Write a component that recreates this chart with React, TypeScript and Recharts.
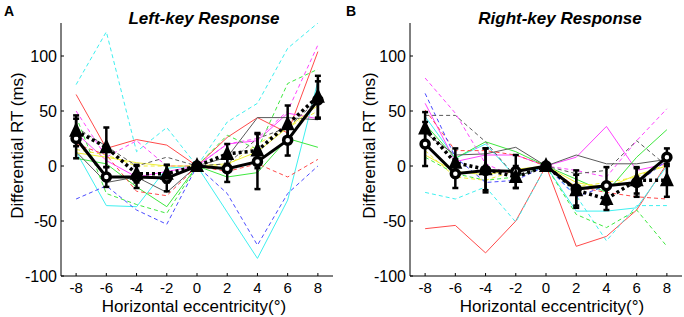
import React from "react";
import { LineChart, Line, XAxis, YAxis, ErrorBar } from "recharts";

const eccentricity = [-8, -6, -4, -2, 0, 2, 4, 6, 8];
const yTicks = [-100, -50, 0, 50, 100];

// single subjects, left-key response
const leftS1 = [65, 16, 24, 19, 0, 26, 44, 30, 104];
const leftS2 = [13, -36, -37, -2, 0, -42, -84, -31, 77];
const leftS3 = [30, 5, -10, -5, 0, 20, 23, 48, 43];
const leftS4 = [7, 2, -19, -37, 0, -10, -6, 25, 17];
const leftS5 = [13, -15, -10, -24, 0, 8, 44, 44, 42];
const leftS6 = [12, 8, 3, 0, 0, 2, 13, 35, 55];
const leftS7 = [20, 10, -23, -27, 0, -5, 2, -10, 6];
const leftS8 = [74, 122, 13, 35, 0, 40, 57, 107, 130];
const leftS9 = [50, 8, 23, 0, 0, 20, 25, 50, 110];
const leftS10 = [45, -25, -35, -43, 0, 28, 15, 75, 88];
const leftS11 = [-30, -18, -40, -53, 0, -25, -72, -25, 0];
const leftS12 = [35, 18, 0, 8, 0, 2, 25, 35, 60];
const leftS13 = [15, 10, 0, 0, 0, 0, 20, 35, 50];

// single subjects, right-key response
const rightS1 = [-57, -54, -79, -50, 0, -73, -64, -40, 2];
const rightS2 = [45, 7, 20, -10, 0, -41, -41, -38, 0];
const rightS3 = [57, 4, 10, 10, 0, 8, 36, -4, 2];
const rightS4 = [38, 7, 22, 13, 0, -12, -24, 8, 33];
const rightS5 = [30, 10, 11, 17, 0, 10, 2, 2, 6];
const rightS6 = [10, -5, -8, -3, 0, -15, -20, -8, 0];
const rightS7 = [51, 14, 14, 10, 0, -19, -24, -28, -30];
const rightS8 = [-24, -30, -19, -51, 0, -27, -68, -36, -36];
const rightS9 = [80, 48, 2, -10, 0, -4, -10, 23, 52];
const rightS10 = [8, -7, -13, -10, 0, -44, -56, -40, -73];
const rightS11 = [66, 8, -15, -13, 0, -28, -18, -16, 5];
const rightS12 = [46, 46, 22, -10, 0, -7, -4, 23, 0];
const rightS13 = [14, -10, -13, -4, 0, -19, -15, -10, 2];

// group means (solid = circles, dashed = triangles) and their error bars
const leftMeanSolid = [25, -10, -10, -11, 0, -2.5, 4, 23.5, 60];
const leftErrSolid = [18, 9, 10, 12, 2, 12, 25, 14, 17];
const leftMeanDashed = [32, 17, -7, -7, 0, 11, 14, 38, 63];
const leftErrDashed = [14, 18, 8, 8, 2, 9, 16, 17, 19];

const rightMeanSolid = [20, -7, -4, -5, 0, -21, -18, -15, 8];
const rightErrSolid = [20, 13, 20, 15, 2, 17, 17, 13, 8];
const rightMeanDashed = [34, 3, -3, -10, 0, -22, -30, -13, -13];
const rightErrDashed = [15, 13, 19, 10, 2, 14, 10, 12, 15];

const subjectColors = [
  "#ff4a4a", "#3ff0f0", "#ff44ff", "#3fe83f", "#5a5a5a", "#eeee33",
  "#ff4a4a", "#3ff0f0", "#ff44ff", "#3fe83f", "#4a4aff", "#5a5a5a", "#eeee33",
];
const subjectDashed = [false, false, false, false, false, false, true, true, true, true, true, true, true];

const FONT = '"Liberation Sans", Arial, sans-serif';

const buildRows = (
  subjects: number[][],
  meanS: number[],
  errS: number[],
  meanD: number[],
  errD: number[]
) =>
  eccentricity.map((x, i) => {
    const row: Record<string, number> = {
      x,
      meanS: meanS[i],
      errS: errS[i],
      meanD: meanD[i],
      errD: errD[i],
    };
    subjects.forEach((s, k) => {
      row[`s${k}`] = s[i];
    });
    return row;
  });

const leftData = buildRows(
  [leftS1, leftS2, leftS3, leftS4, leftS5, leftS6, leftS7, leftS8, leftS9, leftS10, leftS11, leftS12, leftS13],
  leftMeanSolid, leftErrSolid, leftMeanDashed, leftErrDashed
);
const rightData = buildRows(
  [rightS1, rightS2, rightS3, rightS4, rightS5, rightS6, rightS7, rightS8, rightS9, rightS10, rightS11, rightS12, rightS13],
  rightMeanSolid, rightErrSolid, rightMeanDashed, rightErrDashed
);

// MATLAB style: tick marks point into the plot
const XTick = (props: any) => {
  const { x, y, payload } = props;
  return (
    <g>
      <line x1={x} y1={y} x2={x} y2={y - 3} stroke="#000" />
      <text x={x} y={y + 6} dy="0.71em" textAnchor="middle" fontSize={15} fontFamily={FONT} fill="#000">
        {payload.value}
      </text>
    </g>
  );
};

const YTick = (props: any) => {
  const { x, y, payload } = props;
  return (
    <g>
      <line x1={x} y1={y} x2={x + 3} y2={y} stroke="#000" />
      <text x={x - 4} y={y} dy="0.35em" textAnchor="end" fontSize={16} fontFamily={FONT} fill="#000">
        {payload.value}
      </text>
    </g>
  );
};

const renderTriangle = (props: any) => {
  const { cx, cy, index } = props;
  if (cx == null || cy == null) return <g key={`t-${index}`} />;
  return (
    <polygon
      key={`t-${index}`}
      points={`${cx},${cy - 9} ${cx - 7},${cy + 6} ${cx + 7},${cy + 6}`}
      fill="#000"
    />
  );
};

const Panel: React.FC<{
  data: Record<string, number>[];
  axisWidth: number;
  rightMargin: number;
  yLabelX: number;
  xLabelDx: number;
}> = ({ data, axisWidth, rightMargin, yLabelX, xLabelDx }) => (
  <LineChart
    width={342}
    height={317}
    data={data}
    margin={{ top: 23, right: rightMargin, bottom: 0, left: 0 }}
  >
    <XAxis
      dataKey="x"
      type="number"
      domain={[-9, 9]}
      ticks={eccentricity}
      allowDataOverflow
      height={41}
      tickSize={0}
      tickMargin={0}
      tick={<XTick />}
      axisLine={{ stroke: "#000" }}
      label={(p: any) => {
        const vb = p.viewBox;
        return (
          <text
            x={vb.x + vb.width / 2 + xLabelDx}
            y={vb.y + 36}
            textAnchor="middle"
            fontSize={17}
            fontFamily={FONT}
            fill="#000"
          >
            Horizontal eccentricity(°)
          </text>
        );
      }}
    />
    <YAxis
      type="number"
      domain={[-100, 130]}
      ticks={yTicks}
      allowDataOverflow
      width={axisWidth}
      tickSize={0}
      tickMargin={0}
      tick={<YTick />}
      axisLine={{ stroke: "#000" }}
      label={(p: any) => {
        const vb = p.viewBox;
        const cx = vb.x + yLabelX;
        const cy = vb.y + vb.height / 2 - 4;
        return (
          <text
            x={cx}
            y={cy}
            transform={`rotate(-90, ${cx}, ${cy})`}
            textAnchor="middle"
            dy="0.35em"
            fontSize={17}
            fontFamily={FONT}
            fill="#000"
          >
            Differential RT (ms)
          </text>
        );
      }}
    />
    {subjectColors.map((c, k) => (
      <Line
        key={`s${k}`}
        dataKey={`s${k}`}
        stroke={c}
        strokeWidth={1}
        strokeDasharray={subjectDashed[k] ? "4 3" : undefined}
        dot={false}
        activeDot={false}
        isAnimationActive={false}
      />
    ))}
    <Line
      dataKey="meanS"
      stroke="#000"
      strokeWidth={3}
      dot={{ r: 4, fill: "#fff", stroke: "#000", strokeWidth: 3.5 }}
      activeDot={false}
      isAnimationActive={false}
    >
      <ErrorBar dataKey="errS" direction="y" width={3} strokeWidth={2.5} stroke="#000" />
    </Line>
    <Line
      dataKey="meanD"
      stroke="#000"
      strokeWidth={3.5}
      strokeDasharray="3 3"
      dot={renderTriangle}
      activeDot={false}
      isAnimationActive={false}
    >
      <ErrorBar dataKey="errD" direction="y" width={3} strokeWidth={2.5} stroke="#000" />
    </Line>
  </LineChart>
);

const titleStyle: React.CSSProperties = {
  position: "absolute",
  top: 9,
  width: 240,
  textAlign: "center",
  fontSize: 17,
  fontWeight: "bold",
  fontStyle: "italic",
  fontFamily: FONT,
};

const letterStyle: React.CSSProperties = {
  position: "absolute",
  top: 3,
  fontSize: 14,
  fontWeight: "bold",
  fontFamily: FONT,
};

export default function App() {
  return (
    <div
      style={{
        position: "absolute",
        left: 0,
        top: 0,
        width: 684,
        height: 317,
        background: "#fff",
        fontFamily: FONT,
      }}
    >
      <div style={{ position: "absolute", left: 0, top: 0 }}>
        <Panel data={leftData} axisWidth={61} rightMargin={9} yLabelX={17} xLabelDx={-3} />
      </div>
      <div style={{ position: "absolute", left: 342, top: 0 }}>
        <Panel data={rightData} axisWidth={68} rightMargin={2} yLabelX={27} xLabelDx={6} />
      </div>
      <div style={{ ...letterStyle, left: 4 }}>A</div>
      <div style={{ ...letterStyle, left: 346 }}>B</div>
      <div style={{ ...titleStyle, left: 204 - 120 }}>Left-key Response</div>
      <div style={{ ...titleStyle, left: 560 - 120 }}>Right-key Response</div>
    </div>
  );
}
